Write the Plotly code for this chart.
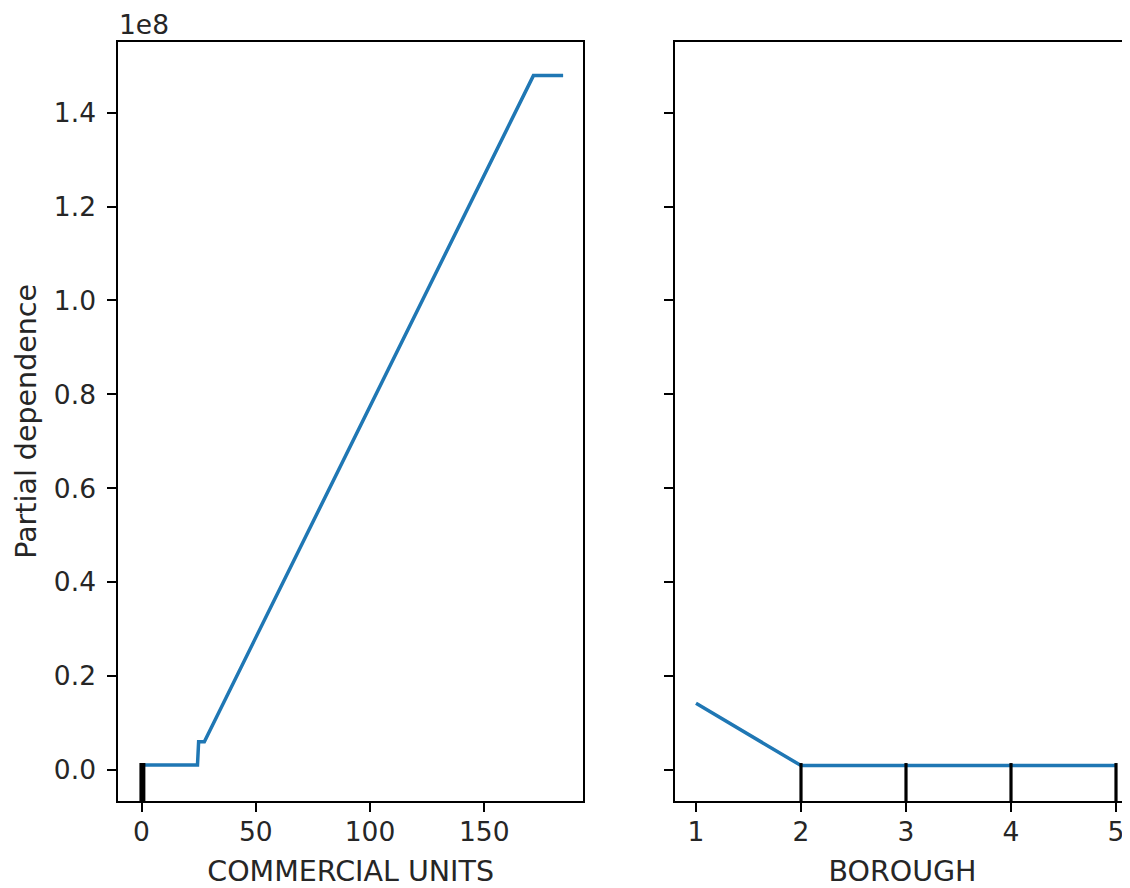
import plotly.graph_objects as go

# ---- data ----
commercial_units = [0, 24.5, 25.0, 27.5, 171.5, 184.5]
pd_commercial = [0.0106e8, 0.0106e8, 0.0603e8, 0.0603e8, 1.4788e8, 1.4788e8]
commercial_deciles = [0, 0, 0, 0, 0, 0, 0, 0, 1]

borough = [1, 2, 3, 4, 5]
pd_borough = [0.142e8, 0.0095e8, 0.0095e8, 0.0095e8, 0.0095e8]
borough_deciles = [2, 3, 4, 5]

y_tick_vals = [0.0, 0.2e8, 0.4e8, 0.6e8, 0.8e8, 1.0e8, 1.2e8, 1.4e8]
y_tick_text = ["0.0", "0.2", "0.4", "0.6", "0.8", "1.0", "1.2", "1.4"]
x1_ticks = [0, 50, 100, 150]
x2_ticks = [1, 2, 3, 4, 5]

# page has an 8px body margin; figure is sized to fill the 1130x888 window
OFF = 8
W, H = 1130 - OFF, 888 - OFF


def px(xp):
    return (xp - OFF) / W


def py(yp):
    return (H - (yp - OFF)) / H


FONT = "DejaVu Sans"
FS = 26.5
FT = 28.5
TXT = "#262626"
LINE = "#1f77b4"

fig = go.Figure()
fig.add_trace(go.Scatter(x=commercial_units, y=pd_commercial, mode="lines",
                         line=dict(color=LINE, width=3.5), xaxis="x", yaxis="y",
                         showlegend=False, hoverinfo="skip"))
fig.add_trace(go.Scatter(x=borough, y=pd_borough, mode="lines",
                         line=dict(color=LINE, width=3.5), xaxis="x2", yaxis="y2",
                         showlegend=False, hoverinfo="skip"))

for d in commercial_deciles:
    fig.add_shape(type="line", xref="x", yref="y domain", x0=d, x1=d, y0=0, y1=0.05,
                  line=dict(color="black", width=3.2))
for d in borough_deciles:
    fig.add_shape(type="line", xref="x2", yref="y2 domain", x0=d, x1=d, y0=0, y1=0.05,
                  line=dict(color="black", width=3.2))

y_dom = [py(801), py(41.7)]
yrange = [-0.066e8, 1.551e8]

axis_common = dict(showline=True, linecolor="black", linewidth=2, ticks="outside",
                   ticklen=9, tickwidth=2, tickcolor="black", showgrid=False,
                   zeroline=False, tickfont=dict(family=FONT, size=FS, color=TXT))

fig.update_layout(
    width=W, height=H, margin=dict(l=0, r=0, t=0, b=0),
    paper_bgcolor="white", plot_bgcolor="white",
    font=dict(family=FONT, size=FS, color=TXT),
    xaxis=dict(domain=[px(118.3), px(583)], range=[-10.15, 193.2], anchor="y",
               mirror=True, tickvals=x1_ticks, ticklabelstandoff=-3,
               title=dict(text="COMMERCIAL UNITS", standoff=15,
                          font=dict(family=FONT, size=FT, color=TXT)),
               **axis_common),
    yaxis=dict(domain=y_dom, range=yrange, anchor="x", mirror=True,
               tickvals=y_tick_vals, ticktext=y_tick_text, ticklabelstandoff=6,
               title=dict(text="Partial dependence", standoff=9,
                          font=dict(family=FONT, size=FT, color=TXT)),
               **axis_common),
    xaxis2=dict(domain=[px(675), 1.0], range=[0.8, 1 + (1130 - 696) / 105.0], anchor="y2",
                mirror=True, tickvals=x2_ticks, ticklabelstandoff=-3,
                title=dict(text="BOROUGH", standoff=15,
                           font=dict(family=FONT, size=FT, color=TXT)),
                **axis_common),
    yaxis2=dict(domain=y_dom, range=yrange, anchor="x2", mirror=False,
                tickvals=y_tick_vals, showticklabels=False,
                **axis_common),
)

fig.add_annotation(text="1e8", xref="paper", yref="paper", x=px(118), y=1.0,
                   xanchor="left", yanchor="top", showarrow=False, borderpad=0,
                   font=dict(family=FONT, size=FS, color=TXT))

fig.write_html("out.html")
